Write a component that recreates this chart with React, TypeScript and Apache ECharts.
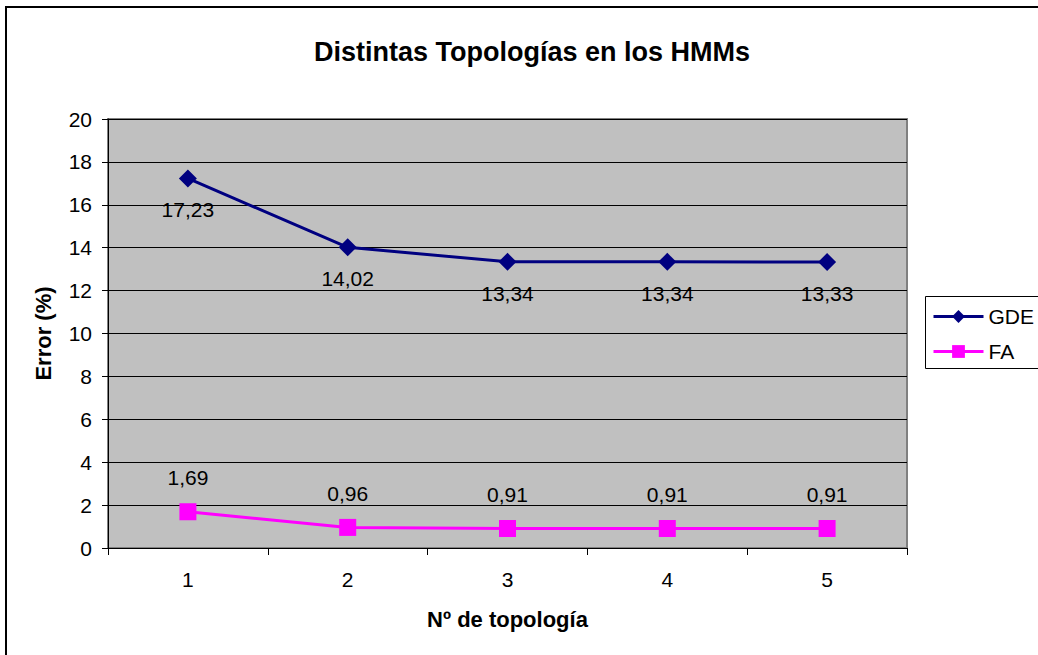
import React, { useEffect, useRef } from "react";
import * as echarts from "echarts";

const categories = ["1", "2", "3", "4", "5"];
const gdeValues = [17.23, 14.02, 13.34, 13.34, 13.33];
const faValues = [1.69, 0.96, 0.91, 0.91, 0.91];
const yMin = 0;
const yMax = 20;
const yInterval = 2;

const FONT = "'Liberation Sans', Arial, sans-serif";
const fmt = (v: number) => v.toFixed(2).replace(".", ",");

export default function App() {
  const ref = useRef<HTMLDivElement>(null);
  useEffect(() => {
    if (!ref.current) return;
    const chart = echarts.init(ref.current, null, { renderer: "svg" });
    chart.setOption({
      animation: false,
      backgroundColor: "#ffffff",
      textStyle: { fontFamily: FONT },
      title: {
        text: "Distintas Topologías en los HMMs",
        left: 527,
        top: 33,
        textAlign: "center",
        textStyle: { fontFamily: FONT, fontSize: 27, fontWeight: "bold", color: "#000" },
      },
      graphic: [
        {
          type: "rect",
          shape: { x: 6, y: 7, width: 1040, height: 660 },
          style: { fill: "none", stroke: "#000", lineWidth: 2 },
          z: 100,
        },
        {
          type: "rect",
          shape: { x: 925.5, y: 296.5, width: 120, height: 72 },
          style: { fill: "#fff", stroke: "#000", lineWidth: 1 },
          z: 0,
        },
      ],
      legend: {
        orient: "vertical",
        left: 932,
        top: 306,
        itemWidth: 50,
        itemHeight: 16,
        itemGap: 14,
        padding: 0,
        lineStyle: { width: 3 },
        textStyle: { fontFamily: FONT, fontSize: 21, color: "#000" },
        data: ["GDE", "FA"],
        z: 10,
      },
      grid: {
        left: 108,
        top: 119,
        right: 131,
        bottom: 107,
        show: true,
        backgroundColor: "#C0C0C0",
        borderColor: "#808080",
        borderWidth: 2,
      },
      xAxis: {
        type: "category",
        data: categories,
        boundaryGap: true,
        name: "Nº de topología",
        nameLocation: "middle",
        nameGap: 60,
        nameTextStyle: { fontFamily: FONT, fontSize: 22, fontWeight: "bold", color: "#000" },
        axisLine: { show: true, lineStyle: { color: "#000", width: 1 } },
        axisTick: { show: true, alignWithLabel: false, length: 7, lineStyle: { color: "#000" } },
        axisLabel: { fontFamily: FONT, fontSize: 21, color: "#000", margin: 21 },
        splitLine: { show: false },
      },
      yAxis: {
        type: "value",
        min: yMin,
        max: yMax,
        interval: yInterval,
        name: "Error (%)",
        nameLocation: "middle",
        nameRotate: 90,
        nameGap: 54,
        nameTextStyle: { fontFamily: FONT, fontSize: 22, fontWeight: "bold", color: "#000" },
        axisLine: { show: true, lineStyle: { color: "#000", width: 1 } },
        axisTick: { show: true, length: 6, lineStyle: { color: "#000" } },
        axisLabel: { fontFamily: FONT, fontSize: 21, color: "#000", margin: 16 },
        splitLine: { show: true, lineStyle: { color: "#000", width: 1 } },
      },
      series: [
        {
          name: "GDE",
          type: "line",
          data: gdeValues,
          symbol: "diamond",
          symbolSize: 18,
          color: "#000080",
          lineStyle: { color: "#000080", width: 3 },
          itemStyle: { color: "#000080" },
          label: {
            show: true,
            position: "bottom",
            distance: 12,
            formatter: (p: any) => fmt(p.value),
            fontFamily: FONT,
            fontSize: 21,
            color: "#000",
          },
          z: 5,
        },
        {
          name: "FA",
          type: "line",
          data: faValues,
          symbol: "rect",
          symbolSize: 17,
          color: "#FF00FF",
          lineStyle: { color: "#FF00FF", width: 3 },
          itemStyle: { color: "#FF00FF" },
          label: {
            show: true,
            position: "top",
            distance: 15,
            formatter: (p: any) => fmt(p.value),
            fontFamily: FONT,
            fontSize: 21,
            color: "#000",
          },
          z: 5,
        },
      ],
    });
    return () => chart.dispose();
  }, []);
  return (
    <div
      ref={ref}
      style={{ position: "fixed", left: 0, top: 0, width: 1038, height: 655 }}
    />
  );
}
